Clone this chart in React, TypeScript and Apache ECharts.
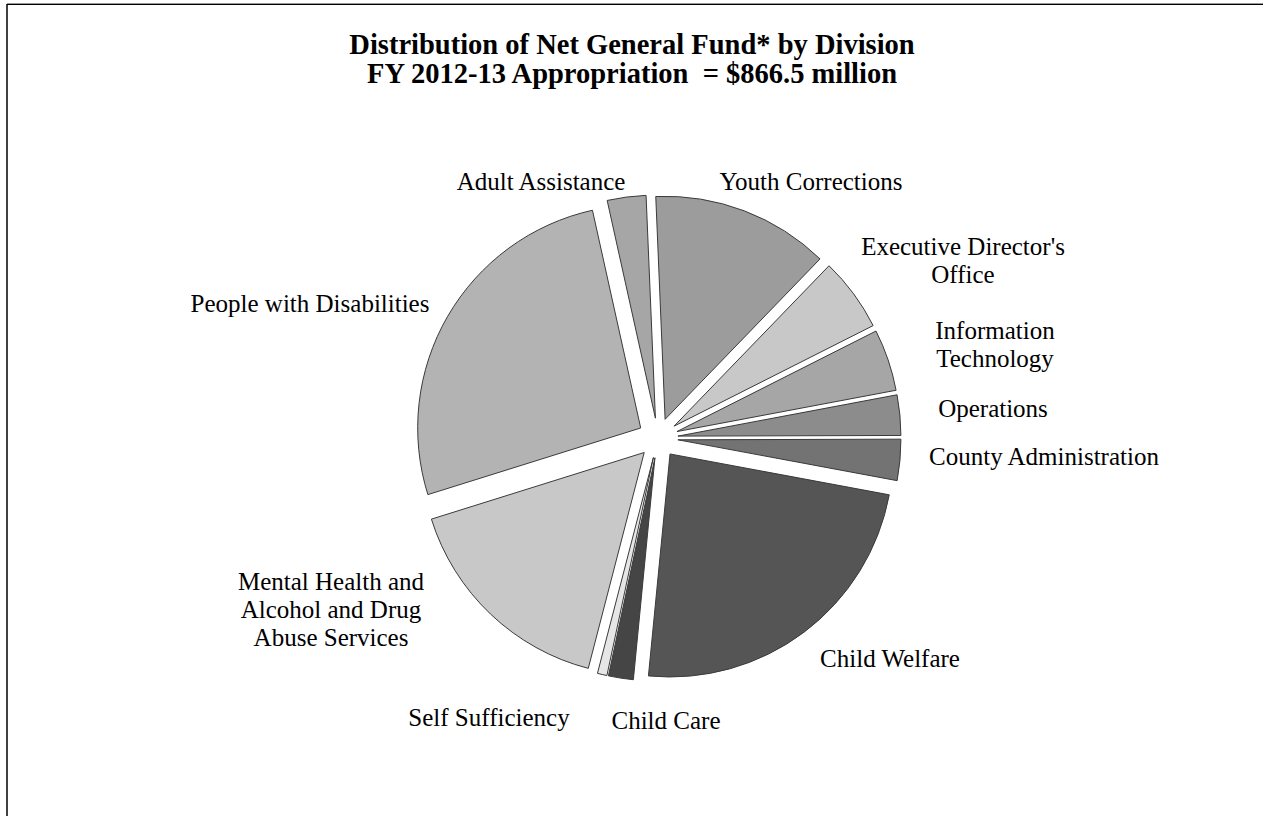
import React, { useEffect, useRef } from "react";
import * as echarts from "echarts";

// Net General Fund by division, $ millions (FY 2012-13 total = 866.5)
const categories = [
  "Youth Corrections",
  "Executive Director's Office",
  "Information Technology",
  "Operations",
  "County Administration",
  "Child Welfare",
  "Child Care",
  "Self Sufficiency",
  "Mental Health and Alcohol and Drug Abuse Services",
  "People with Disabilities",
  "Adult Assistance",
];
const values = [111.7, 46.2, 38.8, 25.3, 25.8, 204.6, 15.6, 6.0, 139.8, 228.4, 24.3];
const colors = [
  "#9c9c9c",
  "#c8c8c8",
  "#a6a6a6",
  "#8c8c8c",
  "#737373",
  "#555555",
  "#454545",
  "#e6e6e6",
  "#c8c8c8",
  "#b3b3b3",
  "#a6a6a6",
];
// label lines as they are broken in the chart
const labelLines = [
  ["Youth Corrections"],
  ["Executive Director's", "Office"],
  ["Information", "Technology"],
  ["Operations"],
  ["County Administration"],
  ["Child Welfare"],
  ["Child Care"],
  ["Self Sufficiency"],
  ["Mental Health and", "Alcohol and Drug", "Abuse Services"],
  ["People with Disabilities"],
  ["Adult Assistance"],
];
const titleLines = [
  "Distribution of Net General Fund* by Division",
  "FY 2012-13 Appropriation  = $866.5 million",
];

// label anchor positions (center x, first line center y)
const labelPos: [number, number][] = [
  [811, 181],
  [963, 246],
  [995, 330],
  [993, 408],
  [1044, 456],
  [890, 658],
  [666, 720],
  [489, 717],
  [331, 581],
  [310, 303],
  [541, 181],
];

export default function App() {
  const ref = useRef<HTMLDivElement>(null);
  useEffect(() => {
    if (!ref.current) return;
    const chart = echarts.init(ref.current, undefined, { renderer: "svg" });
    const font = "'Liberation Serif', 'Times New Roman', serif";
    const graphics: any[] = [
      { type: "line", shape: { x1: 7, y1: 3.5, x2: 1263, y2: 3.5 }, style: { stroke: "#999", lineWidth: 1 } },
      { type: "line", shape: { x1: 7, y1: 4.5, x2: 1263, y2: 4.5 }, style: { stroke: "#000", lineWidth: 1.2 } },
      { type: "line", shape: { x1: 7, y1: 4, x2: 7, y2: 816 }, style: { stroke: "#000", lineWidth: 1.5 } },
    ];
    titleLines.forEach((t, i) => {
      graphics.push({
        type: "text",
        x: 632,
        y: 44 + i * 29,
        style: {
          text: t,
          fontFamily: font,
          fontWeight: "bold",
          fontSize: 28.5,
          fill: "#000",
          align: "center",
          verticalAlign: "middle",
        },
      });
    });
    labelLines.forEach((lines, i) => {
      lines.forEach((ln, j) => {
        graphics.push({
          type: "text",
          x: labelPos[i][0],
          y: labelPos[i][1] + j * 28,
          style: {
            text: ln,
            fontFamily: font,
            fontSize: 25,
            fill: "#000",
            align: "center",
            verticalAlign: "middle",
          },
        });
      });
    });
    chart.setOption({
      animation: false,
      backgroundColor: "#fff",
      graphic: graphics,
      series: [
        {
          type: "pie",
          center: [658, 438],
          radius: [0, 223],
          startAngle: 92.4,
          clockwise: true,
          selectedMode: "multiple",
          selectedOffset: 20,
          avoidLabelOverlap: false,
          label: { show: false },
          labelLine: { show: false },
          emphasis: { disabled: true },
          itemStyle: { borderColor: "#3a3a3a", borderWidth: 1 },
          data: categories.map((name, i) => ({
            name,
            value: values[i],
            selected: true,
            itemStyle: { color: colors[i] },
          })),
        },
      ],
    });
    return () => chart.dispose();
  }, []);
  return (
    <div
      ref={ref}
      style={{ position: "absolute", left: 0, top: 0, width: 1263, height: 816 }}
    />
  );
}
